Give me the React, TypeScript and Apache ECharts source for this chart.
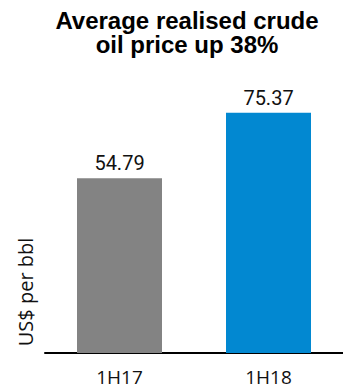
import React, { useEffect, useRef } from "react";
import * as echarts from "echarts";

const categories = ["1H17", "1H18"];
const values = [54.79, 75.37];
const barColors = ["#838383", "#0288D1"];
const titleLines = ["Average realised crude", "oil price up 38%"];
const yAxisName = "US$ per bbl";

export default function App() {
  const ref = useRef<HTMLDivElement>(null);
  useEffect(() => {
    document.body.style.margin = "0";
    if (!ref.current) return;
    const chart = echarts.init(ref.current, null, { renderer: "svg" });
    const titleFont = "'Liberation Sans', Arial, sans-serif";
    const axisFont = "'Open Sans', sans-serif";
    const valueFont = "Roboto, sans-serif";
    chart.setOption({
      animation: false,
      grid: { left: 45, right: -4, top: 98, bottom: 36 },
      graphic: [
        ...titleLines.map((t, i) => ({
          type: "text",
          x: 187,
          y: 20 + i * 24.5,
          style: {
            text: t,
            fontFamily: titleFont,
            fontWeight: "bold",
            fontSize: 24,
            fill: "#000",
            textAlign: "center",
            textVerticalAlign: "middle",
          },
        })),
        {
          type: "text",
          x: 25,
          y: 292,
          rotation: Math.PI / 2,
          style: {
            text: yAxisName,
            fontFamily: axisFont,
            fontSize: 20,
            fill: "#111",
            textAlign: "center",
            textVerticalAlign: "middle",
          },
        },
      ],
      xAxis: {
        type: "category",
        data: categories,
        axisLine: { show: true, lineStyle: { color: "#000", width: 2 } },
        axisTick: { show: false },
        axisLabel: {
          fontFamily: axisFont,
          fontSize: 19,
          lineHeight: 14,
          color: "#111",
          margin: 17,
        },
      },
      yAxis: {
        type: "value",
        min: 0,
        max: 80,
        axisLine: { show: false },
        axisTick: { show: false },
        axisLabel: { show: false },
        splitLine: { show: false },
      },
      series: [
        {
          type: "bar",
          barWidth: 85,
          data: values.map((v, i) => ({ value: v, itemStyle: { color: barColors[i] } })),
          label: {
            show: true,
            position: "top",
            distance: 5,
            fontFamily: valueFont,
            fontSize: 20,
            color: "#111",
            formatter: (p: any) => p.value.toFixed(2),
          },
        },
      ],
    });
    return () => chart.dispose();
  }, []);
  return <div ref={ref} style={{ width: 343, height: 389 }} />;
}
